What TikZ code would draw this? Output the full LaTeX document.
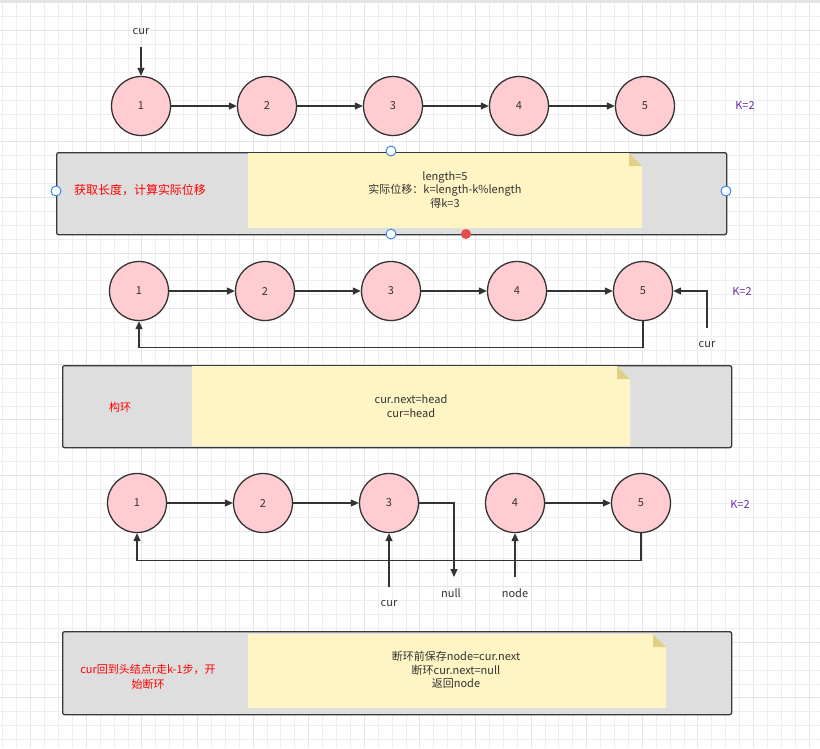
\documentclass[tikz,border=0pt]{standalone}
\usepackage{fontspec}
\setmainfont{Noto Sans CJK SC}
\usetikzlibrary{arrows.meta}
\definecolor{linec}{HTML}{333333}
\definecolor{pinkc}{HTML}{FFCCD1}
\definecolor{boxc}{HTML}{DEDEDE}
\definecolor{boxline}{HTML}{36393D}
\definecolor{notec}{HTML}{FFF4C3}
\definecolor{foldc}{HTML}{E2CF86}
\definecolor{purplec}{HTML}{6A2BA8}
\definecolor{gridc}{HTML}{EEEEEE}
\definecolor{gridmaj}{HTML}{E4E4E4}
\definecolor{handlec}{HTML}{2F7FE6}
\definecolor{reddot}{HTML}{E84B4B}
\begin{document}
\begin{tikzpicture}[x=1pt,y=-1pt,
  lnode/.style={circle,draw=linec,line width=1.3pt,fill=pinkc,minimum size=59pt,inner sep=0pt,font=\fontsize{11}{13}\selectfont,text=linec},
  arr/.style={draw=linec,line width=1.2pt,-{Triangle[length=8pt,width=7pt]}},
  lbl/.style={font=\fontsize{11}{13}\selectfont,text=linec,inner sep=1pt},
  kl/.style={font=\fontsize{11}{13}\selectfont,text=purplec,inner sep=1pt},
  bigbox/.style={draw=boxline,fill=boxc,line width=1.3pt,rounded corners=2pt,inner sep=0pt,anchor=north west},
  redt/.style={font=\fontsize{11}{15}\selectfont,text=red,align=center,inner sep=1pt},
  notet/.style={font=\fontsize{11}{13.5}\selectfont,text=linec,align=center,inner sep=1pt},
  handle/.style={circle,draw=handlec,fill=white,line width=0.9pt,minimum size=10pt,inner sep=0pt},
  rhandle/.style={circle,fill=reddot,minimum size=10pt,inner sep=0pt}
]
\useasboundingbox (0,0) rectangle (820,748);
\fill[white] (0,0) rectangle (820,748);
% grid
\foreach \i in {0,...,59}{
  \pgfmathsetmacro{\xx}{2.7+13.9*\i}
  \pgfmathtruncatemacro{\mm}{mod(\i,4)}
  \ifnum\mm=2
    \draw[gridmaj,line width=0.8pt] (\xx,0) -- (\xx,748);
  \else
    \draw[gridc,line width=0.6pt] (\xx,0) -- (\xx,748);
  \fi
}
\foreach \i in {0,...,54}{
  \pgfmathsetmacro{\yy}{2.7+13.9*\i}
  \pgfmathtruncatemacro{\mm}{mod(\i,4)}
  \ifnum\mm=2
    \draw[gridmaj,line width=0.8pt] (0,\yy) -- (820,\yy);
  \else
    \draw[gridc,line width=0.6pt] (0,\yy) -- (820,\yy);
  \fi
}
\fill[gridmaj] (0,0) rectangle (820,3);

% ---------- row 1 ----------
\node[lnode] (a1) at (141,106) {1};
\node[lnode] (a2) at (267,106) {2};
\node[lnode] (a3) at (393,106) {3};
\node[lnode] (a4) at (519,106) {4};
\node[lnode] (a5) at (645,106) {5};
\draw[arr] (a1) -- (a2);
\draw[arr] (a2) -- (a3);
\draw[arr] (a3) -- (a4);
\draw[arr] (a4) -- (a5);
\node[lbl] (cur1) at (141,32) {cur};
\coordinate (cur1s) at (141,47);
\draw[arr] (cur1s) -- (a1);
\node[kl] (k1) at (745,105) {K=2};

% ---------- box 1 ----------
\node[bigbox,minimum width=670pt,minimum height=82pt] (box1) at (56,152) {};
\fill[notec] (248,153) -- (629,153) -- (642,166) -- (642,228) -- (248,228) -- cycle;
\fill[foldc] (629,153) -- (642,166) -- (629,166) -- cycle;
\node[redt,font=\fontsize{12}{15}\selectfont] (r1) at (140,190) {获取长度，计算实际位移};
\node[notet] (n1) at (445,190) {length=5\\实际位移：k=length-k\%length\\得k=3};
\node[handle] (h1) at (391,151) {};
\node[handle] (h2) at (56,191) {};
\node[handle] (h3) at (726,191) {};
\node[handle] (h4) at (391,234) {};
\node[rhandle] (h5) at (466,234) {};

% ---------- row 2 ----------
\node[lnode] (b1) at (139,291) {1};
\node[lnode] (b2) at (265,291) {2};
\node[lnode] (b3) at (391,291) {3};
\node[lnode] (b4) at (517,291) {4};
\node[lnode] (b5) at (643,291) {5};
\draw[arr] (b1) -- (b2);
\draw[arr] (b2) -- (b3);
\draw[arr] (b3) -- (b4);
\draw[arr] (b4) -- (b5);
\draw[arr] (b5.south) -- ++(0,26) -| (b1.south);
\coordinate (cur2s) at (707,328);
\draw[arr] (cur2s) |- (b5.east);
\node[lbl] (cur2) at (707,345) {cur};
\node[kl] (k2) at (742,291) {K=2};

% ---------- box 2 ----------
\node[bigbox,minimum width=669pt,minimum height=82pt] (box2) at (62,365) {};
\fill[notec] (192,366) -- (617,366) -- (630,379) -- (630,446) -- (192,446) -- cycle;
\fill[foldc] (617,366) -- (630,379) -- (617,379) -- cycle;
\node[redt] (r2) at (120,407) {构环};
\node[notet] (n2) at (411,406) {cur.next=head\\cur=head};

% ---------- row 3 ----------
\node[lnode] (c1) at (137,503) {1};
\node[lnode] (c2) at (263,503) {2};
\node[lnode] (c3) at (389,503) {3};
\node[lnode] (c4) at (515,503) {4};
\node[lnode] (c5) at (641,503) {5};
\draw[arr] (c1) -- (c2);
\draw[arr] (c2) -- (c3);
\draw[arr] (c4) -- (c5);
\coordinate (nullend) at (454,577);
\draw[arr] (c3.east) -| (nullend);
\node[lbl] (null) at (451,593) {null};
\draw[arr] (c5.south) -- ++(0,27) -| (c1.south);
\coordinate (cur3s) at (389,587);
\draw[arr] (cur3s) -- (c3.south);
\node[lbl] (cur3) at (389,603) {cur};
\coordinate (node3s) at (515,577);
\draw[arr] (node3s) -- (c4.south);
\node[lbl] (nodel) at (515,593) {node};
\node[kl] (k3) at (740,504) {K=2};

% ---------- box 3 ----------
\node[bigbox,minimum width=669pt,minimum height=83pt] (box3) at (62,631) {};
\fill[notec] (248,634) -- (653,634) -- (666,647) -- (666,708) -- (248,708) -- cycle;
\fill[foldc] (653,634) -- (666,647) -- (653,647) -- cycle;
\node[redt] (r3) at (148,677) {cur回到头结点r走k-1步，开\\始断环};
\node[notet] (n3) at (456,670) {断环前保存node=cur.next\\断环cur.next=null\\返回node};
\end{tikzpicture}
\end{document}
